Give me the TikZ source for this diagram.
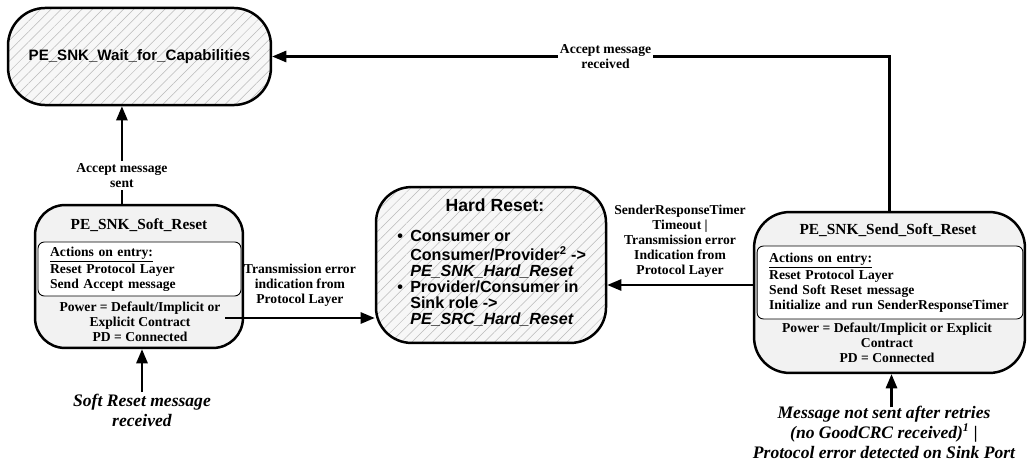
\documentclass[tikz,border=0pt]{standalone}
\usepackage{fontspec}
\setmainfont{Liberation Serif}
\setsansfont{Liberation Sans}
\usetikzlibrary{arrows.meta, positioning, calc, patterns.meta}

\begin{document}
\begin{tikzpicture}[
			stbox/.style = {rectangle, draw, line width=1.7pt, align=center},
			hatched/.style = {preaction={fill=gray!6}, preaction={pattern={Lines[angle=45,distance=5pt,line width=0.35pt]}, pattern color=gray!55}},
			greybox/.style = {fill=gray!10},
			actbox/.style = {rectangle, draw, line width=0.6pt, fill=white, rounded corners=0.15cm, align=left, inner xsep=0.29cm, font=\bfseries\fontsize{9.3}{10.2}\selectfont},
			ttl/.style = {font=\bfseries\fontsize{10.5}{12}\selectfont},
			txt/.style = {font=\bfseries\fontsize{9.3}{10.2}\selectfont, align=center, inner sep=1pt},
			lbl/.style = {font=\bfseries\fontsize{9.3}{10.2}\selectfont, align=center, inner sep=1.5pt},
			cause/.style = {font=\bfseries\itshape\fontsize{12}{13.6}\selectfont, align=center, inner sep=1pt},
			arr/.style = {-{Triangle[length=0.34cm,width=0.27cm]}, line width=1.5pt},
		]
			\useasboundingbox (0,0) rectangle (24.672,11.136);

			% wait for capabilities
			\node[stbox, hatched, rounded corners=0.9cm, minimum width=6.31cm, minimum height=2.33cm, font=\sffamily\bfseries\fontsize{10.3}{12}\selectfont] (wait) at (3.348,9.78) {PE\_SNK\_Wait\_for\_Capabilities};

			% soft reset
			\node[stbox, greybox, rounded corners=0.72cm, minimum width=4.99cm, minimum height=3.43cm] (softrst) at (3.336,4.5) {};
			\node[ttl] (softttl) at (3.336,5.736) {PE\_SNK\_Soft\_Reset};
			\node[actbox, text width=4.29cm, minimum height=1.25cm] (softact) at (3.348,4.68) {\underline{Actions on entry:}\\Reset Protocol Layer\\Send Accept message};
			\node[txt] (softpwr) at (3.36,3.408) {Power = Default/Implicit or\\Explicit Contract\\PD = Connected};

			% hard reset
			\node[stbox, hatched, rounded corners=0.85cm, minimum width=5.52cm, minimum height=3.74cm] (hardrst) at (11.784,4.776) {};
			\node[font=\sffamily\bfseries\fontsize{12}{13}\selectfont] (hardttl) at (11.88,6.216) {Hard Reset:};
			\node[anchor=west, inner sep=0pt, font=\sffamily\bfseries\fontsize{11}{10.2}\selectfont] (hardlist) at (9.528,4.416) {%
				\begin{tabular}{@{}l@{\hspace{5pt}}l@{}}
					\textbullet & Consumer or\\
					 & Consumer/Provider\textsuperscript{2} ->\\
					 & \textit{PE\_SNK\_Hard\_Reset}\\
					\textbullet & Provider/Consumer in\\
					 & Sink role ->\\
					 & \textit{PE\_SRC\_Hard\_Reset}
				\end{tabular}};

			% send soft reset
			\node[stbox, greybox, rounded corners=0.85cm, minimum width=6.5cm, minimum height=3.86cm] (sendsoft) at (21.348,4.116) {};
			\node[ttl] (sendttl) at (21.312,5.616) {PE\_SNK\_Send\_Soft\_Reset};
			\node[actbox, text width=5.8cm, minimum height=1.75cm] (sendact) at (21.36,4.356) {\underline{Actions on entry:}\\Reset Protocol Layer\\Send Soft Reset message\\Initialize and run SenderResponseTimer};
			\node[txt] (sendpwr) at (21.288,2.904) {Power = Default/Implicit or Explicit\\Contract\\PD = Connected};

			% triggers from outside
			\node[cause] (softcause) at (3.408,1.296) {Soft Reset message\\received};
			\node[cause] (sendcause) at (21.216,0.768) {Message not sent after retries\\(no GoodCRC received)\textsuperscript{1} |\\Protocol error detected on Sink Port};

			% transitions
			\draw[arr] ([xshift=-0.41cm]softrst.north) -- ([xshift=-0.41cm]softrst.north |- wait.south) node[lbl, fill=white, pos=0.29] {Accept message\\sent};
			\draw[arr] (sendsoft.north) |- (wait.east) node[lbl, fill=white, pos=0.73] {Accept message\\received};
			\coordinate (softout) at (5.4,3.504);
			\draw[arr] (softout) -- (softout -| hardrst.west) node[lbl, midway, above=0.2cm] {Transmission error\\indication from\\Protocol Layer};
			\draw[arr] ([yshift=0.18cm]sendsoft.west) -- ([yshift=0.18cm]sendsoft.west -| hardrst.east) node[lbl, midway, above=0.1cm] {SenderResponseTimer\\Timeout |\\Transmission error\\Indication from\\Protocol Layer};
			\draw[arr] (softcause.north) -- (softcause.north |- softrst.south);
			\draw[arr] ([xshift=0.18cm, yshift=-0.08cm]sendcause.north) -- ([xshift=0.18cm]sendcause.north |- sendsoft.south);
		\end{tikzpicture}
\end{document}
